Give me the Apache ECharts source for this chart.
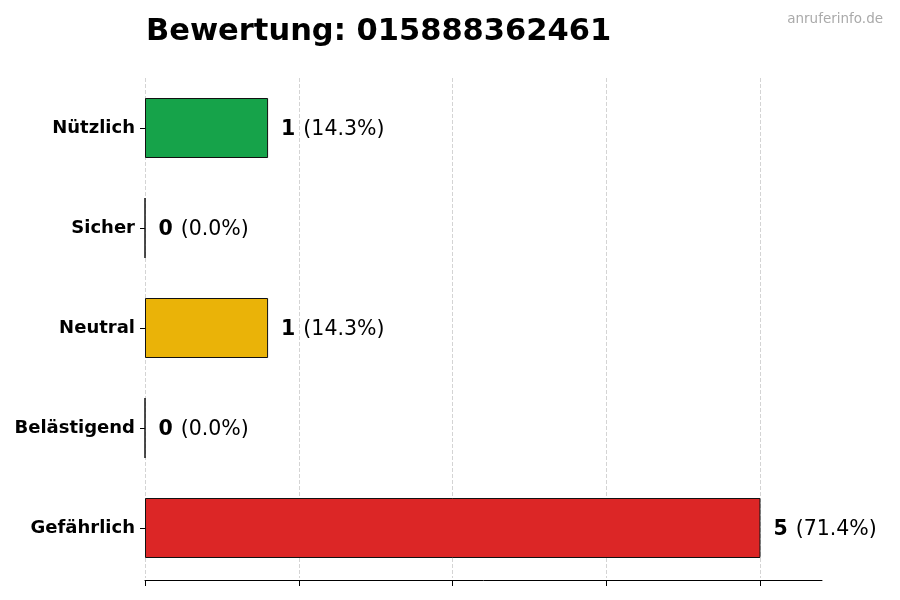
<!DOCTYPE html>
<html>
<head>
<meta charset="utf-8">
<script src="https://cdn.jsdelivr.net/npm/echarts@6/dist/echarts.min.js"></script>
<style>
html, body { margin: 0; padding: 0; background: #fff; }
#chart { width: 900px; height: 600px; }
</style>
</head>
<body>
<div id="chart"></div>
<script>
var categories = ['Nützlich', 'Sicher', 'Neutral', 'Belästigend', 'Gefährlich'];
var counts = [1, 0, 1, 0, 5];
var percents = ['14.3%', '0.0%', '14.3%', '0.0%', '71.4%'];
var colors = ['#16a34a', '#16a34a', '#eab308', '#eab308', '#dc2626'];
var xTicks = [0, 1.25, 2.5, 3.75, 5];

var font = 'DejaVu Sans';
var myChart = echarts.init(document.getElementById('chart'));

var barData = counts.map(function (v, i) {
	return {
		value: v,
		itemStyle: { color: colors[i] }
	};
});

var option = {
	animation: false,
	title: [{
		text: 'Bewertung: 015888362461',
		left: 141,
		top: 12,
		textStyle: { fontFamily: font, fontSize: 30.5, fontWeight: 'bold', color: '#000' }
	}, {
		text: 'anruferinfo.de',
		right: 12,
		top: 7,
		textStyle: { fontFamily: font, fontSize: 13.5, fontWeight: 'normal', color: '#aaaaaa' }
	}],
	grid: {
		left: 145,
		right: 78,
		top: 78,
		bottom: 22
	},
	xAxis: {
		type: 'value',
		min: 0,
		max: 5.5,
		interval: 1.25,
		offset: 2,
		axisLine: { show: true, lineStyle: { color: '#000', width: 1 } },
		axisTick: { show: true, customValues: xTicks, length: 6, lineStyle: { color: '#000' } },
		axisLabel: { show: false },
		splitLine: {
			show: true,
			lineStyle: { type: 'dashed', color: '#d4d4d4', width: 1 }
		}
	},
	yAxis: {
		type: 'category',
		inverse: true,
		data: categories,
		axisLine: { show: false },
		axisTick: { show: true, alignWithLabel: true, length: 5, lineStyle: { color: '#000' } },
		axisLabel: { fontFamily: font, fontSize: 18, fontWeight: 'bold', color: '#000', margin: 10 }
	},
	series: [{
		type: 'bar',
		data: barData,
		barWidth: 60,
		z: 3,
		itemStyle: { borderColor: '#111', borderWidth: 1 },
		label: {
			show: true,
			position: 'right',
			distance: 13,
			offset: [0, 1.5],
			formatter: function (p) {
				return '{b|' + counts[p.dataIndex] + '}{n|(' + percents[p.dataIndex] + ')}';
			},
			rich: {
				b: { fontFamily: font, fontSize: 20.5, fontWeight: 'bold', color: '#000', padding: [0, 8, 0, 0] },
				n: { fontFamily: font, fontSize: 20.5, color: '#000' }
			}
		}
	}]
};

myChart.setOption(option);
</script>
</body>
</html>
